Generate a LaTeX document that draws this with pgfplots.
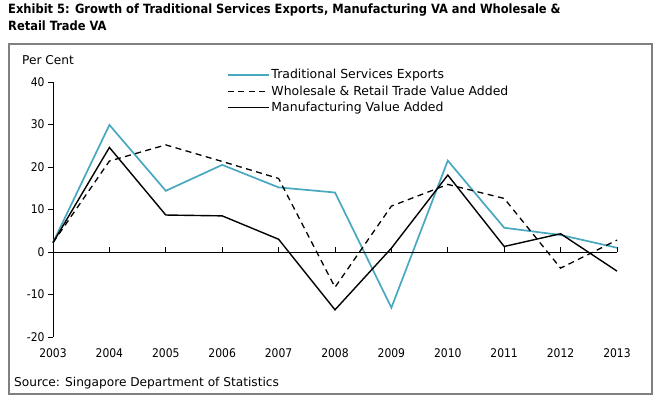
\documentclass[border=0pt]{standalone}
\usepackage{fontspec}
\setmainfont{DejaVu Sans}
\newfontfamily\condfont{DejaVu Sans Condensed}
\usepackage{pgfplots}
\pgfplotsset{compat=1.18}
\definecolor{tealc}{RGB}{72,168,192}
\definecolor{framec}{RGB}{128,128,128}
\begin{document}
\begin{tikzpicture}
\useasboundingbox (0bp,0bp) rectangle (661bp,411bp);
\draw[framec, line width=1.6bp] (9bp,17bp) rectangle (652bp,367bp);
\node[anchor=north west, inner sep=0, align=left, font=\condfont\bfseries\fontsize{12.8}{17}\selectfont] at (8bp,407bp) {Exhibit 5: Growth of Traditional Services Exports, Manufacturing VA and Wholesale \&\\Retail Trade VA};
\node[anchor=base west, inner sep=0, font=\fontsize{12.2}{14}\selectfont] at (22bp,346bp) {Per Cent};
\node[anchor=base west, inner sep=0, font=\fontsize{12.2}{14}\selectfont] at (14bp,25bp) {Source: Singapore Department of Statistics};
\begin{axis}[
  at={(53bp,74bp)}, anchor=south west, scale only axis,
  width=564bp, height=255bp,
  xmin=2003, xmax=2013, ymin=-20, ymax=40,
  axis lines*=left,
  x axis line style={draw=none},
  xtick={2003,...,2013},
  x tick label style={/pgf/number format/1000 sep={}, yshift=-3bp},
  ytick={-20,-10,...,40},
  tick align=outside,
  major tick length=5bp,
  xtick style={draw=none},
  ytick style={black, line width=0.8bp},
  y axis line style={black, line width=0.8bp},
  tick label style={font=\condfont\fontsize{12}{14}\selectfont},
  /pgf/number format/assume math mode=true,
  legend style={draw=none, fill=none, at={(0.306,1.062)}, anchor=north west,
    font=\fontsize{12.5}{15}\selectfont, row sep=1.5bp, inner sep=1bp},
  legend cell align=left,
  legend image code/.code={\draw[#1] (0bp,0bp) -- (41bp,0bp);},
  clip=false,
]
\addplot[tealc, line width=1.7bp] coordinates {
(2003,2.2) (2004,29.9) (2005,14.4) (2006,20.5) (2007,15.2) (2008,14.0)
(2009,-13.1) (2010,21.5) (2011,5.7) (2012,4.0) (2013,1.0)};
\addlegendentry{Traditional Services Exports}
\addplot[black, line width=1.3bp, dash pattern=on 6bp off 4.5bp] coordinates {
(2003,2.2) (2004,21.4) (2005,25.2) (2006,21.3) (2007,17.3) (2008,-8.3)
(2009,10.8) (2010,15.9) (2011,12.6) (2012,-3.8) (2013,2.8)};
\addlegendentry{Wholesale \& Retail Trade Value Added}
\addplot[black, line width=1.4bp] coordinates {
(2003,2.2) (2004,24.6) (2005,8.7) (2006,8.5) (2007,3.0) (2008,-13.6)
(2009,0.9) (2010,18.1) (2011,1.3) (2012,4.3) (2013,-4.5)};
\addlegendentry{Manufacturing Value Added}
\end{axis}
\begin{axis}[
  at={(53bp,74bp)}, anchor=south west, scale only axis,
  width=564bp, height=255bp,
  xmin=2003, xmax=2013, ymin=-20, ymax=40,
  axis x line=middle, axis y line=none,
  x axis line style={black, line width=0.8bp, -},
  xtick={2003,...,2013}, xticklabels={},
  tick align=inside, major tick length=5bp,
  xtick style={black, line width=0.8bp},
  ytick=\empty,
]
\end{axis}
\end{tikzpicture}
\end{document}
